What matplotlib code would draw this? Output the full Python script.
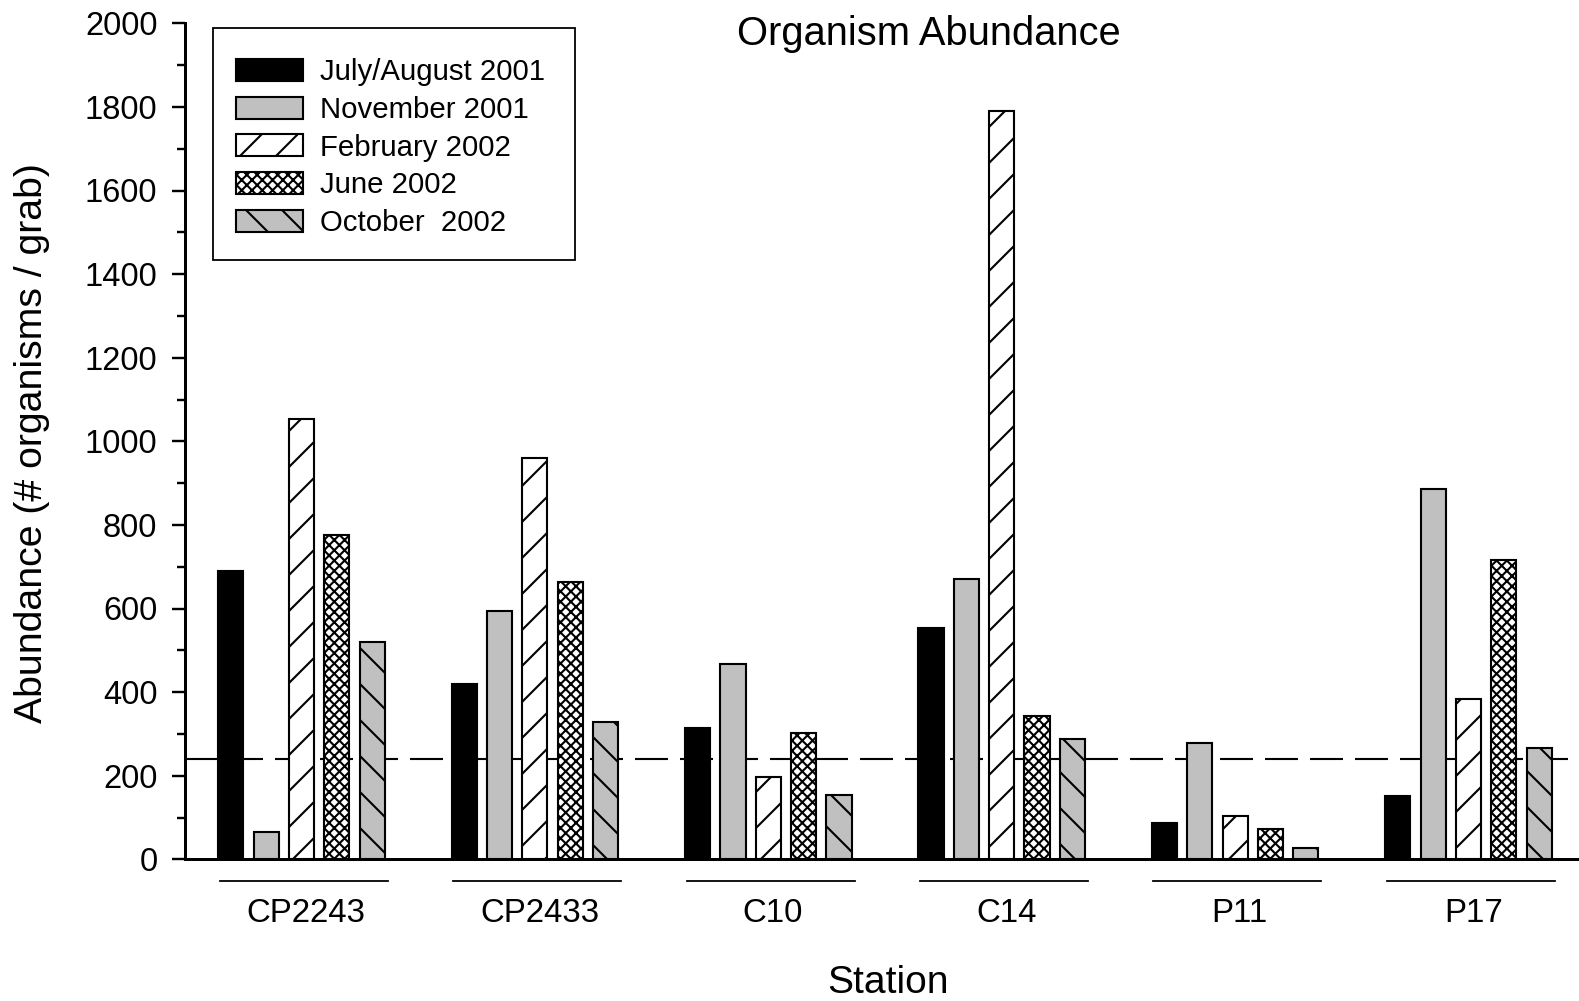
import matplotlib
matplotlib.use("Agg")
import matplotlib.pyplot as plt
import matplotlib.transforms as mtransforms
from matplotlib.patches import Rectangle
import numpy as np

plt.rcParams['font.family'] = ['Liberation Sans', 'DejaVu Sans']
plt.rcParams['hatch.linewidth'] = 0.7

# data
stations = ['CP2243', 'CP2433', 'C10', 'C14', 'P11', 'P17']
series = ['July/August 2001', 'November 2001', 'February 2002', 'June 2002', 'October  2002']
jul_aug_2001 = [690, 419, 314, 554, 88, 151]
nov_2001 = [65, 594, 467, 671, 279, 887]
feb_2002 = [1053, 960, 198, 1790, 104, 383]
jun_2002 = [776, 663, 303, 343, 73, 715]
oct_2002 = [519, 328, 155, 288, 28, 266]
reference_level = 240

values = [jul_aug_2001, nov_2001, feb_2002, jun_2002, oct_2002]
faces = ['black', '#c0c0c0', 'white', 'white', '#c0c0c0']
hatches = [None, None, '//', 'xxxxxxx', '\\\\']

DPI = 216
W, H = 1579, 1001
fig = plt.figure(figsize=(W / DPI, H / DPI), dpi=DPI)
ax = fig.add_axes([185 / W, 1 - 859.3 / H, 1 - 185 / W, (859.3 - 23.3) / H])

x = np.arange(len(stations))
step = 0.1515
width = 0.108
ax.axhline(reference_level, color='black', lw=0.7, dashes=(11 / 0.7, 4 / 0.7), zorder=1)
for j, (vals, fc, h) in enumerate(zip(values, faces, hatches)):
    ax.bar(x + (j - 2) * step, vals, width, color=fc, edgecolor='black',
           linewidth=0.7, hatch=h, label=series[j], zorder=2)

ax.set_xlim(-0.4991, 5.4734)
ax.set_ylim(0, 2000)
ax.set_yticks(np.arange(0, 2001, 200))
ax.set_yticks(np.arange(0, 2001, 100), minor=True)
ax.tick_params(axis='y', which='major', direction='out', length=4.2, width=0.8,
               labelsize=10.9, pad=5)
ax.tick_params(axis='y', which='minor', direction='out', length=2.8, width=0.8)
ax.set_xticks([])
for s in ['top', 'right']:
    ax.spines[s].set_visible(False)
for s in ['left', 'bottom']:
    ax.spines[s].set_linewidth(1.0)

# station labels with lines beneath the axis
trans = mtransforms.blended_transform_factory(ax.transData, ax.transAxes)
for xi, name in zip(x, stations):
    ax.plot([xi - 0.35, xi + 0.37], [-0.026, -0.026], color='black', lw=0.6,
            transform=trans, clip_on=False)
    ax.text(xi + 0.02, -0.0645, name, transform=trans, ha='center', va='center',
            fontsize=11)

fig.text(888 / W, 1 - 983 / H, 'Station', ha='center', va='center', fontsize=13)
fig.text(32 / W, 1 - 443 / H, 'Abundance (# organisms / grab)', rotation=90,
         ha='center', va='center', fontsize=13.1)
fig.text(928.5 / W, 1 - 34 / H, 'Organism Abundance', ha='center', va='center',
         fontsize=13.3)

leg = ax.legend(loc='upper left', bbox_to_anchor=(235.6 / W, 1 - 58 / H),
                bbox_transform=fig.transFigure, fontsize=9.8, frameon=False,
                borderaxespad=0, borderpad=0, handlelength=2.28, handleheight=0.78,
                handletextpad=0.6, labelspacing=0.333)
fig.patches.append(Rectangle((212.5 / W, 1 - 259.8 / H), (575 - 212.5) / W,
                             (259.8 - 28.2) / H, transform=fig.transFigure,
                             fill=False, edgecolor='black', lw=0.6))

fig.savefig('out.png', dpi=DPI)
